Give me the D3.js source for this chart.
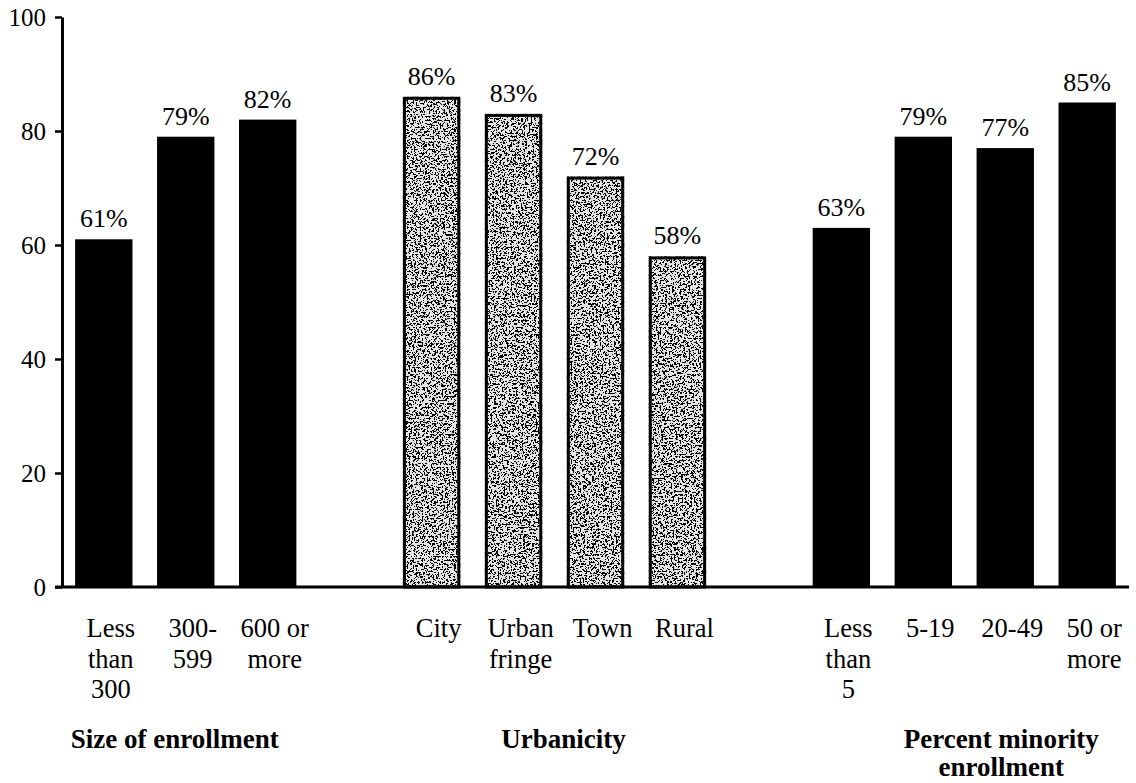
<!DOCTYPE html>
<html>
<head>
<meta charset="utf-8">
<script src="https://cdn.jsdelivr.net/npm/d3@7"></script>
<style>
  html, body { margin: 0; padding: 0; background: #fff; }
  svg { display: block; }
  text { font-family: "Liberation Serif", "Times New Roman", serif; fill: #000; }
</style>
</head>
<body>
<svg id="chart" width="1136" height="783"></svg>
<script>
// Share of schools, by school characteristic (percent)
const yTicks = [0, 20, 40, 60, 80, 100];

const sizeCategories = [["Less", "than", "300"], ["300-", "599"], ["600 or", "more"]];
const sizeValues = [61, 79, 82];

const urbanCategories = [["City"], ["Urban", "fringe"], ["Town"], ["Rural"]];
const urbanValues = [86, 83, 72, 58];

const minorityCategories = [["Less", "than", "5"], ["5-19"], ["20-49"], ["50 or", "more"]];
const minorityValues = [63, 79, 77, 85];

const groupTitles = [["Size of enrollment"], ["Urbanicity"], ["Percent minority", "enrollment"]];
const groupStyles = ["solid", "stipple", "solid"];

// Layout: horizontal nudge of each group title from its group's centre
const titleShift = [-11, 9, 37];

// Assemble the groups; one empty slot separates neighbouring groups.
const groups = [
  { cats: sizeCategories, vals: sizeValues },
  { cats: urbanCategories, vals: urbanValues },
  { cats: minorityCategories, vals: minorityValues }
];
const bars = [];
const slots = [];
groups.forEach((g, gi) => {
  if (gi > 0) slots.push("gap" + gi);
  g.cats.forEach((c, i) => {
    const key = gi + "-" + i;
    slots.push(key);
    bars.push({ key, group: gi, lines: c, value: g.vals[i], style: groupStyles[gi] });
  });
});

const svg = d3.select("#chart");
const axisX = 62, x1 = 1129;
const y = d3.scaleLinear().domain([0, 100]).range([587, 17]);
const x = d3.scaleBand().domain(slots).range([axisX, x1]).paddingInner(0.3).paddingOuter(0.16);

// Stippled fill for the urbanicity bars
const defs = svg.append("defs");
const f = defs.append("filter").attr("id", "stipple")
  .attr("x", 0).attr("y", 0).attr("width", 1).attr("height", 1)
  .attr("color-interpolation-filters", "sRGB");
f.append("feTurbulence").attr("type", "fractalNoise").attr("baseFrequency", 0.55)
  .attr("numOctaves", 2).attr("seed", 11).attr("result", "noise");
f.append("feColorMatrix").attr("in", "noise").attr("type", "matrix")
  .attr("values", "0 0 0 0 0  0 0 0 0 0  0 0 0 0 0  1 0 0 0 0").attr("result", "a");
const ct = f.append("feComponentTransfer").attr("in", "a").attr("result", "dots");
ct.append("feFuncA").attr("type", "discrete").attr("tableValues", "0 0 0 0 0 0 0 0 0 0 0 1 1 1 1 1 1 1 1 1");
f.append("feComposite").attr("in", "dots").attr("in2", "SourceGraphic").attr("operator", "in").attr("result", "clipped");
const merge = f.append("feMerge");
merge.append("feMergeNode").attr("in", "SourceGraphic");
merge.append("feMergeNode").attr("in", "clipped");

// Bars
const barG = svg.append("g");
barG.selectAll("rect.solid").data(bars.filter(d => d.style === "solid")).join("rect")
  .attr("class", "solid")
  .attr("x", d => x(d.key)).attr("width", x.bandwidth())
  .attr("y", d => y(d.value)).attr("height", d => y(0) - y(d.value))
  .attr("fill", "#000");

const stip = bars.filter(d => d.style === "stipple");
barG.selectAll("rect.fillst").data(stip).join("rect")
  .attr("class", "fillst")
  .attr("x", d => x(d.key)).attr("width", x.bandwidth())
  .attr("y", d => y(d.value)).attr("height", d => y(0) - y(d.value))
  .attr("fill", "#e4e4e4").attr("filter", "url(#stipple)");
barG.selectAll("rect.edge").data(stip).join("rect")
  .attr("class", "edge")
  .attr("x", d => x(d.key) + 1.5).attr("width", x.bandwidth() - 3)
  .attr("y", d => y(d.value) + 1.5).attr("height", d => y(0) - y(d.value) - 1.5)
  .attr("fill", "none").attr("stroke", "#000").attr("stroke-width", 3);

// Value labels
svg.append("g").selectAll("text").data(bars).join("text")
  .attr("x", d => x(d.key) + x.bandwidth() / 2)
  .attr("y", d => y(d.value) - 12)
  .attr("text-anchor", "middle")
  .style("font-size", "26px")
  .text(d => d.value + "%");

// Y axis
const yAxis = svg.append("g").attr("transform", `translate(${axisX},0)`)
  .call(d3.axisLeft(y).tickValues(yTicks).tickSize(7).tickSizeOuter(0).tickPadding(9));
yAxis.select(".domain").attr("stroke", "#000").attr("stroke-width", 3);
yAxis.selectAll(".tick line").attr("stroke", "#000").attr("stroke-width", 2.5);
yAxis.selectAll(".tick text").style("font-size", "25px")
  .style("font-family", "'Liberation Serif', 'Times New Roman', serif").attr("dy", "0.33em");

// Baseline
svg.append("line").attr("x1", axisX - 7).attr("x2", x1)
  .attr("y1", y(0)).attr("y2", y(0))
  .attr("stroke", "#000").attr("stroke-width", 3);

// Category labels
const catG = svg.append("g").selectAll("text").data(bars).join("text")
  .attr("text-anchor", "middle")
  .style("font-size", "26.5px");
catG.each(function (d) {
  const t = d3.select(this);
  const cx = x(d.key) + x.bandwidth() / 2 + 7;
  d.lines.forEach((ln, i) => {
    t.append("tspan").attr("x", cx).attr("y", 637 + i * 30.5).text(ln);
  });
});

// Group titles
groupTitles.forEach((lines, gi) => {
  const keys = bars.filter(b => b.group === gi).map(b => b.key);
  const cx = (x(keys[0]) + x(keys[keys.length - 1]) + x.bandwidth()) / 2 + titleShift[gi];
  const t = svg.append("text").attr("text-anchor", "middle")
    .style("font-size", "27px").style("font-weight", "bold");
  lines.forEach((ln, i) => {
    t.append("tspan").attr("x", cx).attr("y", 748 + i * 28).text(ln);
  });
});
</script>
</body>
</html>
